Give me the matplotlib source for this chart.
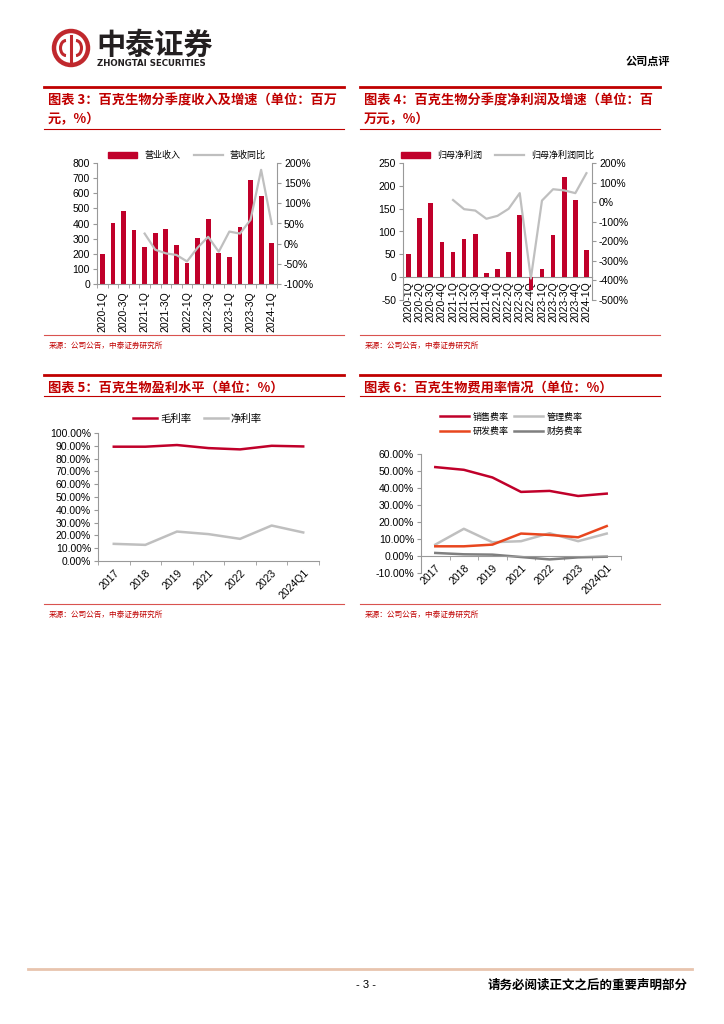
import matplotlib
matplotlib.use("Agg")
import matplotlib.pyplot as plt
import numpy as np
from matplotlib.lines import Line2D
from matplotlib.patches import Circle, Arc, Patch

plt.rcParams["font.family"] = ["Liberation Sans", "Noto Sans CJK SC", "DejaVu Sans"]
plt.rcParams["axes.unicode_minus"] = False

# --- data ---
quarters = ["2020-1Q", "2020-2Q", "2020-3Q", "2020-4Q",
            "2021-1Q", "2021-2Q", "2021-3Q", "2021-4Q",
            "2022-1Q", "2022-2Q", "2022-3Q", "2022-4Q",
            "2023-1Q", "2023-2Q", "2023-3Q", "2023-4Q", "2024-1Q"]
revenue = [200, 405, 483, 358, 246, 337, 363, 260, 140, 305, 428, 207, 180, 378, 685, 583, 272]
revenue_yoy = [25, -15, -24, -28, -44, -10, 17, -20, 30, 25, 59, 183, 49]  # from 2021-1Q
net_profit = [50, 130, 163, 76, 55, 83, 95, 10, 17, 56, 137, -28, 18, 92, 220, 170, 60]
net_profit_yoy = [11, -36, -43, -85, -70, -34, 46, -390, 8, 66, 60, 46, 148]  # from 2021-1Q

years = ["2017", "2018", "2019", "2021", "2022", "2023", "2024Q1"]
gross_margin = [89.3, 89.3, 90.6, 88.2, 87.2, 90.0, 89.5]
net_margin = [13.4, 12.6, 23.0, 21.0, 17.3, 27.7, 22.3]
sales_rate = [52.3, 50.7, 46.2, 37.7, 38.3, 35.3, 36.7]
admin_rate = [6.7, 16.0, 8.1, 8.7, 13.4, 8.7, 13.2]
rd_rate = [5.7, 5.7, 6.7, 13.2, 12.4, 11.0, 17.6]
fin_rate = [1.8, 1.0, 0.8, -0.6, -2.0, -0.8, -0.4]

RED = "#C0002A"
GRAY = "#BFBFBF"
ORANGE = "#E8461E"
DGRAY = "#7F7F7F"
TITLE_RED = "#C00000"
SPINE = "#999999"

W, H = 724, 1024
fig = plt.figure(figsize=(W / 100, H / 100), dpi=100)

# page layer in pixel coordinates
bg = fig.add_axes([0, 0, 1, 1], zorder=0)
bg.set_xlim(0, W)
bg.set_ylim(H, 0)
bg.axis("off")


def px_axes(left, top, right, bottom):
    return fig.add_axes([left / W, 1 - bottom / H, (right - left) / W, (bottom - top) / H], zorder=1)


# header / logo
bg.add_patch(Circle((71, 48), 17, fill=False, lw=3.2, ec="#C0282D"))
bg.add_patch(Arc((66, 48), 11, 15, theta1=90, theta2=270, lw=2.2, color="#C0282D"))
bg.add_patch(Arc((76, 48), 11, 15, theta1=-90, theta2=90, lw=2.2, color="#C0282D"))
bg.plot([71, 71], [36, 61], color="#C0282D", lw=2.2)
bg.text(96, 45, "中泰证券", fontsize=21, fontweight="bold", color="#231F20",
        va="center", family=["Noto Sans CJK SC"])
bg.text(97, 63, "ZHONGTAI SECURITIES", fontsize=6.2, fontweight="bold", color="#231F20",
        va="center", family=["DejaVu Sans"])
bg.text(670, 61, "公司点评", fontsize=8, fontweight="bold", ha="right", va="center",
        family=["Noto Sans CJK SC"])


def section(x0, x1, top, lines, bottom):
    bg.plot([x0, x1], [top, top], color=TITLE_RED, lw=2)
    for i, t in enumerate(lines):
        bg.text(x0 + 4, top + 13 + 19 * i, t, fontsize=9.5, fontweight="bold", color=TITLE_RED,
                va="center", family=["Noto Sans CJK SC"])
    bg.plot([x0, x1], [bottom, bottom], color=TITLE_RED, lw=0.8)


def source(x0, x1, y):
    bg.plot([x0, x1], [y, y], color="#D9534F", lw=0.8)
    bg.text(x0 + 5, y + 11, "来源：公司公告，中泰证券研究所", fontsize=5.5, color=TITLE_RED,
            va="center", family=["Noto Sans CJK SC"])


section(44, 344, 87, ["图表 3：百克生物分季度收入及增速（单位：百万", "元，%）"], 129)
section(360, 660, 87, ["图表 4：百克生物分季度净利润及增速（单位：百", "万元，%）"], 129)
source(44, 344, 335)
source(360, 660, 335)
section(44, 344, 375, ["图表 5：百克生物盈利水平（单位：%）"], 396)
section(360, 660, 375, ["图表 6：百克生物费用率情况（单位：%）"], 396)
source(44, 344, 604)
source(360, 660, 604)

# footer
bg.plot([28, 692], [969, 969], color="#E8C4AE", lw=2)
bg.text(366, 985, "- 3 -", fontsize=8, ha="center", va="center")
bg.text(688, 985, "请务必阅读正文之后的重要声明部分", fontsize=9, fontweight="bold", ha="right",
        va="center", family=["Noto Sans CJK SC"])

# --- chart 3 ---
x = np.arange(len(quarters))
ax3 = px_axes(97, 163, 277, 284)
ax3.bar(x, revenue, width=0.45, color=RED)
ax3.set_xlim(-0.5, len(quarters) - 0.5)
ax3.set_ylim(0, 800)
ax3.set_yticks(np.arange(0, 801, 100))
ax3.set_xticks(x[::2])
ax3.set_xticklabels(quarters[::2], rotation=90)
ax3.set_xticks(np.arange(-0.5, len(quarters), 1), minor=True)
ax3.tick_params(axis="x", which="major", length=0, labelsize=7.5, pad=5)
ax3.tick_params(axis="x", which="minor", length=3, color=SPINE)
ax3.tick_params(axis="y", labelsize=7.5, length=3, color=SPINE, pad=2)
for s in ["top", "right"]:
    ax3.spines[s].set_visible(False)
for s in ["left", "bottom"]:
    ax3.spines[s].set_color(SPINE)
ax3b = ax3.twinx()
ax3b.set_zorder(2)
ax3b.plot(x[4:], revenue_yoy, color=GRAY, lw=1.6)
ax3b.set_ylim(-100, 200)
ax3b.set_yticks(np.arange(-100, 201, 50))
ax3b.set_yticklabels([f"{v}%" for v in range(-100, 201, 50)])
ax3b.tick_params(axis="y", labelsize=7.5, length=3, color=SPINE, pad=2)
for s in ["top", "left", "bottom"]:
    ax3b.spines[s].set_visible(False)
ax3b.spines["right"].set_color(SPINE)
h3 = [Patch(color=RED), Line2D([], [], color=GRAY, lw=1.6)]
ax3.legend(h3, ["营业收入", "营收同比"], loc="lower center", bbox_to_anchor=(0.5, 1.01), ncol=2,
           frameon=False, fontsize=6.5, handlelength=3.2, handleheight=0.6, columnspacing=1.5,
           borderaxespad=0, borderpad=0.2)

# --- chart 4 ---
ax4 = px_axes(403, 163, 592, 300)
ax4.spines["bottom"].set_position(("data", 0))
ax4.bar(x, net_profit, width=0.42, color=RED, zorder=3)
ax4.set_xlim(-0.5, len(quarters) - 0.5)
ax4.set_ylim(-50, 250)
ax4.set_yticks(np.arange(-50, 251, 50))
ax4.set_xticks(x)
ax4.set_xticklabels(quarters, rotation=90)
ax4.tick_params(axis="x", length=0, labelsize=7.5, pad=3)
ax4.tick_params(axis="y", labelsize=7.5, length=3, color=SPINE, pad=2)
for s in ["top", "right"]:
    ax4.spines[s].set_visible(False)
for s in ["left", "bottom"]:
    ax4.spines[s].set_color(SPINE)
ax4b = ax4.twinx()
ax4b.set_zorder(2)
ax4b.plot(x[4:], net_profit_yoy, color=GRAY, lw=1.6)
ax4b.set_ylim(-500, 200)
ax4b.set_yticks(np.arange(-500, 201, 100))
ax4b.set_yticklabels([f"{v}%" for v in range(-500, 201, 100)])
ax4b.tick_params(axis="y", labelsize=7.5, length=3, color=SPINE, pad=2)
for s in ["top", "left", "bottom"]:
    ax4b.spines[s].set_visible(False)
ax4b.spines["right"].set_color(SPINE)
h4 = [Patch(color=RED), Line2D([], [], color=GRAY, lw=1.6)]
ax4.legend(h4, ["归母净利润", "归母净利润同比"], loc="lower center", bbox_to_anchor=(0.5, 1.01), ncol=2,
           frameon=False, fontsize=6.5, handlelength=3.2, handleheight=0.6, columnspacing=1.5,
           borderaxespad=0, borderpad=0.2)

# --- chart 5 ---
xy = np.arange(len(years))
ax5 = px_axes(98, 433, 319, 561)
ax5.plot(xy, gross_margin, color=RED, lw=1.8, label="毛利率")
ax5.plot(xy, net_margin, color=GRAY, lw=1.8, label="净利率")
ax5.set_xlim(-0.5, len(years) - 0.5)
ax5.set_ylim(0, 100)
ax5.set_yticks(np.arange(0, 101, 10))
ax5.set_yticklabels([f"{v:.2f}%" for v in range(0, 101, 10)])
ax5.set_xticks(xy)
ax5.set_xticklabels(years, rotation=45, ha="right", rotation_mode="anchor")
ax5.set_xticks(np.arange(-0.5, len(years), 1), minor=True)
ax5.tick_params(axis="x", which="major", length=0, labelsize=7.5, pad=5)
ax5.tick_params(axis="x", which="minor", length=3, color=SPINE)
ax5.tick_params(axis="y", labelsize=7.5, length=3, color=SPINE, pad=2)
for s in ["top", "right"]:
    ax5.spines[s].set_visible(False)
for s in ["left", "bottom"]:
    ax5.spines[s].set_color(SPINE)
ax5.legend(loc="lower center", bbox_to_anchor=(0.45, 1.04), ncol=2, frameon=False, fontsize=7.5,
           handlelength=2.3, columnspacing=1.2, handletextpad=0.3, borderaxespad=0)

# --- chart 6 ---
ax6 = px_axes(421, 454, 621, 573)
ax6.spines["bottom"].set_position(("data", 0))
l_sales, = ax6.plot(xy, sales_rate, color=RED, lw=1.8)
l_admin, = ax6.plot(xy, admin_rate, color=GRAY, lw=1.8)
l_rd, = ax6.plot(xy, rd_rate, color=ORANGE, lw=1.8)
l_fin, = ax6.plot(xy, fin_rate, color=DGRAY, lw=1.8)
ax6.set_xlim(-0.5, len(years) - 0.5)
ax6.set_ylim(-10, 60)
ax6.set_yticks(np.arange(-10, 61, 10))
ax6.set_yticklabels([f"{v:.2f}%" for v in range(-10, 61, 10)])
ax6.set_xticks(xy)
ax6.set_xticklabels(years, rotation=45, ha="right", rotation_mode="anchor")
ax6.set_xticks(np.arange(-0.5, len(years), 1), minor=True)
ax6.tick_params(axis="x", which="major", length=0, labelsize=7.5, pad=5)
ax6.tick_params(axis="x", which="minor", length=3, color=SPINE)
ax6.tick_params(axis="y", labelsize=7.5, length=3, color=SPINE, pad=2)
for s in ["top", "right"]:
    ax6.spines[s].set_visible(False)
for s in ["left", "bottom"]:
    ax6.spines[s].set_color(SPINE)
ax6.legend([l_sales, l_rd, l_admin, l_fin], ["销售费率", "研发费率", "管理费率", "财务费率"],
           loc="lower center", bbox_to_anchor=(0.45, 1.12), ncol=2, frameon=False, fontsize=6.5,
           handlelength=3.2, columnspacing=0.6, handletextpad=0.4, labelspacing=0.6, borderaxespad=0)

fig.savefig("out.png", dpi=100)
